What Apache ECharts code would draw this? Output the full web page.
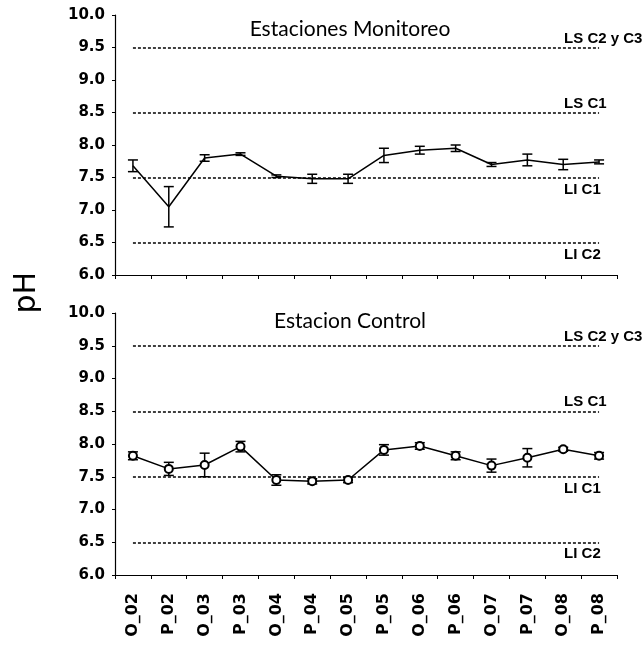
<!DOCTYPE html>
<html>
<head>
<meta charset="utf-8">
<script src="https://cdn.jsdelivr.net/npm/echarts@6/dist/echarts.min.js"></script>
<style>
  html, body { margin: 0; padding: 0; background: #fff; }
  #chart { width: 644px; height: 645px; }
</style>
</head>
<body>
<div id="chart"></div>
<script>
// muestreos
var categories = ['O_02', 'P_02', 'O_03', 'P_03', 'O_04', 'P_04', 'O_05', 'P_05', 'O_06', 'P_06', 'O_07', 'P_07', 'O_08', 'P_08'];
// Estaciones Monitoreo: media y desviacion
var monitoreoMean = [7.68, 7.05, 7.80, 7.86, 7.52, 7.48, 7.48, 7.84, 7.92, 7.95, 7.70, 7.77, 7.70, 7.74];
var monitoreoErr = [0.09, 0.31, 0.05, 0.02, 0.02, 0.07, 0.07, 0.11, 0.06, 0.05, 0.03, 0.09, 0.08, 0.03];
// Estacion Control
var controlMean = [7.82, 7.62, 7.68, 7.96, 7.45, 7.43, 7.45, 7.91, 7.97, 7.82, 7.67, 7.79, 7.92, 7.82];
var controlErr = [0.06, 0.10, 0.18, 0.08, 0.08, 0.04, 0.04, 0.08, 0.05, 0.06, 0.10, 0.14, 0.03, 0.05];
// limites
var limitValues = [9.5, 8.5, 7.5, 6.5];
var limitNames = ['LS C2 y C3', 'LS C1', 'LI C1', 'LI C2'];

var myChart = echarts.init(document.getElementById('chart'));

function errorData(mean, err) {
  return mean.map(function (m, i) {
    return [i, m - err[i], m + err[i]];
  });
}

function renderError(params, api) {
  var x = api.value(0);
  var lo = api.coord([x, api.value(1)]);
  var hi = api.coord([x, api.value(2)]);
  var w = 5;
  var style = { stroke: '#000', lineWidth: 1.5 };
  return {
    type: 'group',
    children: [
      { type: 'line', shape: { x1: lo[0], y1: lo[1], x2: hi[0], y2: hi[1] }, style: style },
      { type: 'line', shape: { x1: lo[0] - w, y1: lo[1], x2: lo[0] + w, y2: lo[1] }, style: style },
      { type: 'line', shape: { x1: hi[0] - w, y1: hi[1], x2: hi[0] + w, y2: hi[1] }, style: style }
    ]
  };
}

function limitLines() {
  return limitValues.map(function (v, i) {
    var upper = limitNames[i].indexOf('LS') === 0;
    return [
      { coord: [categories[0], v] },
      {
        coord: [categories[categories.length - 1], v],
        label: {
          show: true,
          position: 'end',
          formatter: limitNames[i],
          offset: [-40, upper ? -9 : 12],
          color: '#000',
          fontWeight: 'bold',
          fontSize: 15,
          fontFamily: "'Liberation Sans Narrow', 'Liberation Sans', sans-serif"
        }
      }
    ];
  });
}

function yAxisCfg(gi) {
  return {
    type: 'value',
    gridIndex: gi,
    min: 6,
    max: 10,
    interval: 0.5,
    axisLine: { show: true, lineStyle: { color: '#000', width: 1.2 } },
    axisTick: { show: true, length: 3, lineStyle: { color: '#000' } },
    splitLine: { show: false },
    axisLabel: {
      color: '#000',
      fontWeight: 'bold',
      fontSize: 15,
      fontFamily: 'DejaVu Sans',
      margin: 10,
      formatter: function (v) { return v.toFixed(1); }
    }
  };
}

function xAxisCfg(gi, showLabels) {
  return {
    type: 'category',
    gridIndex: gi,
    data: categories,
    boundaryGap: true,
    axisLine: { show: true, lineStyle: { color: '#000', width: 1.2 } },
    axisTick: { show: true, length: 4, lineStyle: { color: '#000' } },
    axisLabel: {
      show: showLabels,
      rotate: 90,
      interval: 0,
      margin: 18,
      color: '#000',
      fontWeight: 'bold',
      fontSize: 16,
      fontFamily: 'DejaVu Sans'
    }
  };
}

var titleStyle = { color: '#000', fontSize: 21, fontWeight: 'normal', fontFamily: 'Lato' };

var option = {
  animation: false,
  backgroundColor: '#fff',
  title: [
    { text: 'Estaciones Monitoreo', left: 345, top: 14, textAlign: 'center', textStyle: titleStyle },
    { text: 'Estacion Control', left: 345, top: 306, textAlign: 'center', textStyle: titleStyle }
  ],
  graphic: [{
    type: 'text',
    left: 12,
    top: 272,
    rotation: Math.PI / 2,
    style: { text: 'pH', fontSize: 30, fill: '#000', fontFamily: 'DejaVu Sans' }
  }],
  grid: [
    { left: 115, top: 15, width: 502, height: 260 },
    { left: 115, top: 313, width: 502, height: 262 }
  ],
  xAxis: [xAxisCfg(0, false), xAxisCfg(1, true)],
  yAxis: [yAxisCfg(0), yAxisCfg(1)],
  series: [
    {
      name: 'Estaciones Monitoreo',
      type: 'line',
      xAxisIndex: 0,
      yAxisIndex: 0,
      data: monitoreoMean,
      symbol: 'none',
      lineStyle: { color: '#000', width: 1.5 },
      markLine: {
        silent: true,
        symbol: 'none',
        lineStyle: { color: '#000', type: [3, 2], width: 1.5 },
        data: limitLines()
      },
      z: 3
    },
    {
      type: 'custom',
      xAxisIndex: 0,
      yAxisIndex: 0,
      renderItem: renderError,
      data: errorData(monitoreoMean, monitoreoErr),
      encode: { x: 0, y: [1, 2] },
      z: 4
    },
    {
      name: 'Estacion Control',
      type: 'line',
      xAxisIndex: 1,
      yAxisIndex: 1,
      data: controlMean,
      symbol: 'emptyCircle',
      symbolSize: 8,
      showSymbol: true,
      showAllSymbol: true,
      itemStyle: { color: '#000', borderColor: '#000', borderWidth: 1.5 },
      lineStyle: { color: '#000', width: 1.5 },
      markLine: {
        silent: true,
        symbol: 'none',
        lineStyle: { color: '#000', type: [3, 2], width: 1.5 },
        data: limitLines()
      },
      z: 5
    },
    {
      type: 'custom',
      xAxisIndex: 1,
      yAxisIndex: 1,
      renderItem: renderError,
      data: errorData(controlMean, controlErr),
      encode: { x: 0, y: [1, 2] },
      z: 4
    }
  ]
};
myChart.setOption(option);
</script>
</body>
</html>
